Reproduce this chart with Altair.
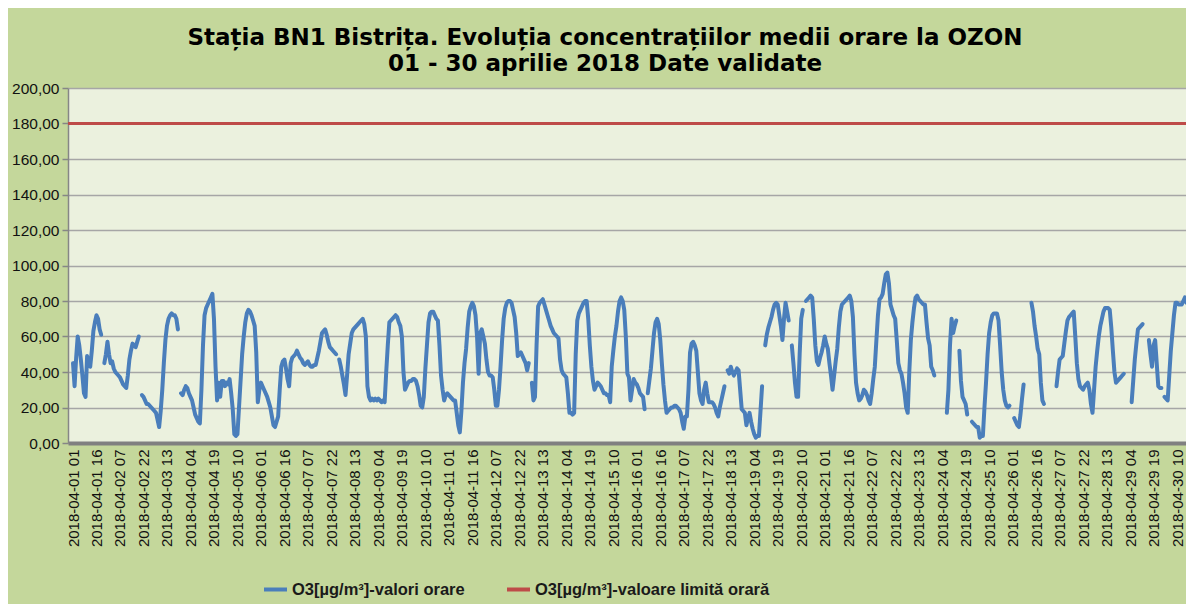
import altair as alt
import pandas as pd

N = None
# hourly O3 values, hour 01 .. 24 of each day
day01 = [45,32,48,60,55,47,38,28,26,49,44,43,52,63,68,72,70,64,61,N,45,50,57,50]
day02 = [45,46,42,40,39,38,37,35,33,32,31,38,47,52,56,55,54,57,60,N,27,26,24,22]
day03 = [22,21,20,19,18,17,13,9,18,30,45,58,66,70,72,73,72,72,70,64,N,28,27,30]
day04 = [32,31,28,26,24,20,16,14,12,11,30,55,72,76,78,80,82,84,70,43,24,34,26,35]
day05 = [35,32,34,33,36,28,19,5,4,5,20,35,50,60,68,73,75,74,72,69,66,51,23,30]
day06 = [34,32,30,28,26,23,20,15,10,9,12,15,30,43,46,47,42,36,32,45,48,49,50,52]
day07 = [50,48,47,45,44,45,46,44,43,43,44,44,48,52,57,62,63,64,61,57,54,53,52,51]
day08 = [50,N,47,43,38,33,27,38,50,56,62,64,65,66,67,68,69,70,67,60,32,26,24,25]
day09 = [24,25,24,25,24,23,24,23,40,55,68,69,70,71,72,71,68,66,60,40,30,32,34,35]
day10 = [35,36,36,35,32,27,21,20,26,42,55,68,73,74,74,72,70,69,55,38,30,24,27,28]
day11 = [27,26,25,24,24,17,10,6,18,34,45,53,65,74,77,79,77,72,60,39,62,64,60,56]
day12 = [47,40,38,38,37,30,21,21,30,43,58,70,76,79,80,80,79,75,71,62,49,50,51,49]
day13 = [47,45,41,45,N,34,24,26,55,77,79,80,81,78,75,72,69,66,64,62,61,60,59,47]
day14 = [41,39,38,37,28,17,17,16,17,50,69,73,75,77,79,80,80,70,55,43,35,30,32,34]
day15 = [33,32,30,28,28,27,27,23,43,52,60,66,74,80,82,80,75,60,39,37,24,30,36,34]
day16 = [33,31,28,27,26,19,N,28,35,42,52,62,68,70,67,58,45,33,24,17,18,19,20,20]
day17 = [21,21,20,19,17,12,8,15,15,30,51,56,57,55,52,40,28,24,22,30,34,28,23,23]
day18 = [23,22,20,17,15,20,24,28,32,N,41,39,43,40,38,40,42,41,30,19,18,17,10,14]
day19 = [17,12,8,5,3,4,4,18,32,N,55,61,65,68,71,75,78,79,78,72,66,58,70,79]
day20 = [74,69,N,55,45,34,26,26,50,70,75,N,80,81,82,83,82,70,55,46,44,48,51,55]
day21 = [60,56,53,45,38,30,38,46,53,65,74,78,79,80,81,82,83,80,71,50,34,28,24,25]
day22 = [27,30,29,27,24,22,28,36,43,58,72,81,82,84,90,95,96,90,78,75,72,70,58,45]
day23 = [41,39,34,28,20,17,40,58,68,76,82,83,81,80,79,78,78,68,59,55,43,41,38,N]
day24 = [N,N,N,N,N,N,17,30,55,70,62,66,69,N,52,35,26,24,22,16,N,N,12,11]
day25 = [10,9,9,3,4,4,20,34,50,62,68,72,73,73,73,69,55,40,30,24,21,20,21,N]
day26 = [N,14,12,10,9,16,25,33,N,N,N,N,79,74,66,60,53,50,34,24,22,N,N,N]
day27 = [N,N,N,N,32,40,47,48,49,56,63,69,71,72,73,74,60,45,36,32,31,30,32,33]
day28 = [34,30,22,17,30,43,52,60,66,70,74,76,76,76,75,65,52,40,34,35,36,37,38,39]
day29 = [N,N,N,N,23,35,47,56,64,65,66,67,N,N,N,58,50,43,55,58,45,32,31,31]
day30 = [N,26,25,24,38,52,62,72,79,79,78,78,78,80,82,79,N,50,44,39]

days = [day01, day02, day03, day04, day05, day06, day07, day08, day09, day10,
        day11, day12, day13, day14, day15, day16, day17, day18, day19, day20,
        day21, day22, day23, day24, day25, day26, day27, day28, day29, day30]

series_name = "O3[µg/m³]-valori orare"
limit_name = "O3[µg/m³]-valoare limită orară"
limit_value = [180]

title_lines = ["Stația BN1 Bistrița. Evoluția concentrațiilor medii orare la OZON",
               "01 - 30 aprilie 2018 Date validate"]

tick_hours = list(range(0, 706, 15))
start = pd.Timestamp("2018-04-01 01:00")
tick_labels = [(start + pd.Timedelta(hours=h)).strftime("%Y-%m-%d %H") for h in tick_hours]
y_ticks = [0, 20, 40, 60, 80, 100, 120, 140, 160, 180, 200]

values = [v for d in days for v in d]
rows = []
seg = 0
for i, v in enumerate(values):
    if v is None:
        seg += 1
        continue
    rows.append({"h": i, "v": v, "seg": seg, "serie": series_name})
df = pd.DataFrame(rows)
lim = pd.DataFrame({"v": limit_value, "serie": [limit_name]})

label_array = "[" + ",".join("'" + s + "'" for s in tick_labels) + "]"

color = alt.Color(
    "serie:N",
    scale=alt.Scale(domain=[series_name, limit_name], range=["#4a7ebb", "#be4b48"]),
    legend=alt.Legend(
        orient="none", legendX=194, legendY=488, direction="horizontal", title=None,
        symbolType="stroke", symbolStrokeWidth=4, symbolSize=529,
        labelFontSize=16.5, labelFont="Liberation Sans", labelFontWeight="bold",
        labelColor="#1a1a1a", labelLimit=500, columnPadding=34, labelOffset=3,
        padding=0,
    ),
)

x = alt.X(
    "h:Q",
    scale=alt.Scale(domain=[-3.2, 710.7], nice=False, zero=False),
    axis=alt.Axis(
        values=tick_hours,
        labelExpr=label_array + "[round(datum.value / 15)]",
        labelAngle=270, labelAlign="right", labelBaseline="middle",
        labelFont="Liberation Sans", labelFontSize=15, labelColor="#111111",
        labelPadding=6, ticks=False, grid=False,
        domainColor="#808080", domainWidth=4, labelOverlap=False,
    ),
    title=None,
)
y = alt.Y(
    "v:Q",
    scale=alt.Scale(domain=[0, 200], nice=False),
    axis=alt.Axis(
        values=y_ticks,
        labelExpr="replace(format(datum.value, '.2f'), '.', ',')",
        labelFont="Liberation Sans", labelFontSize=15.5, labelColor="#111111",
        labelPadding=3, tickSize=6, tickColor="#868686", tickWidth=1.5,
        domainColor="#868686", domainWidth=1.5, labelOverlap=False,
        grid=True, gridColor="#a6a6a6", gridWidth=1.5,
    ),
    title=None,
)

line = alt.Chart(df).mark_line(strokeWidth=4, clip=True, strokeJoin="round", strokeCap="round").encode(
    x=x, y=y, detail="seg:N", color=color
)
rule = alt.Chart(lim).mark_rule(strokeWidth=3).encode(y=y, color=color)

chart = alt.layer(line, rule).properties(
    width=1118,
    height=355,
    title=alt.TitleParams(
        text=title_lines, font="DejaVu Sans", fontSize=23, fontWeight="bold",
        color="#000000", anchor="middle", dx=-22, offset=5, lineHeight=26,
    ),
    autosize=alt.AutoSizeParams(type="none"),
    padding={"left": 60, "top": 80, "right": 0, "bottom": 161},
    background="#c4d79b",
).configure_view(fill="#ebf1de", strokeWidth=0)

chart.save("out.html", embed_options={"renderer": "svg", "actions": False})
